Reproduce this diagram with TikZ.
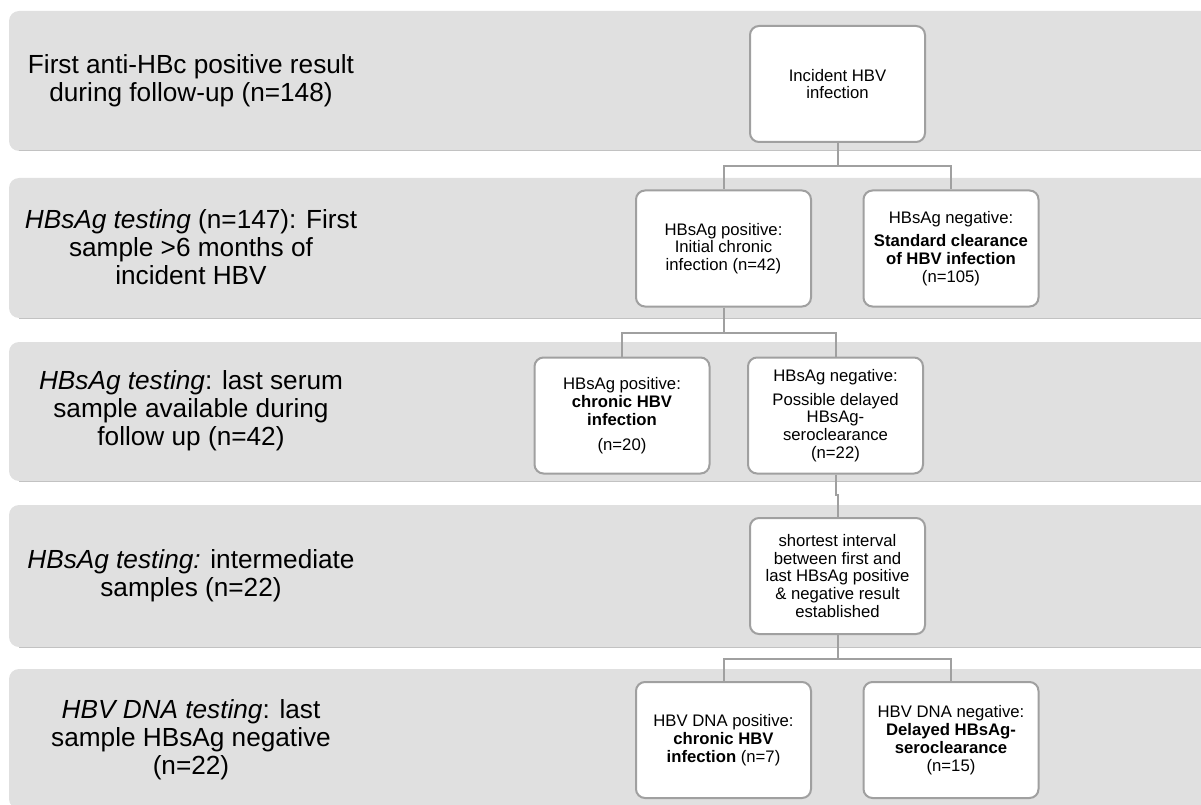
\documentclass[tikz,border=0pt]{standalone}
\usepackage{fontspec}
\setmainfont{Liberation Sans}
\definecolor{bandgray}{HTML}{E0E0E0}
\definecolor{edgegray}{HTML}{C2C2C2}
\definecolor{boxgray}{HTML}{A0A0A0}
\tikzset{
  box/.style={draw=boxgray, line width=2pt, fill=white, rounded corners=9pt,
    align=center, minimum width=175pt, minimum height=116pt, inner sep=2pt,
    font=\fontsize{16.7}{17.8}\selectfont},
  lab/.style={align=center, font=\fontsize{26.2}{28}\selectfont},
  link/.style={draw=boxgray, line width=2pt},
}
\begin{document}
\begin{tikzpicture}[x=1pt,y=-1pt]
\useasboundingbox (0,0) rectangle (1201,805);
\foreach \t/\b in {11/151,178/318,342/481,505/647,669/809}{
  \fill[bandgray,rounded corners=10pt] (1215,\t) -- (9,\t) -- (9,\b) -- (1215,\b) -- cycle;
  \draw[edgegray,line width=1pt] (19,\b) -- (1215,\b);
}
\node (lab1) [lab] at (191,81) {First anti-HBc positive result\\during follow-up (n=148)};
\node (lab2) [lab] at (191,247) {\textit{HBsAg testing} (n=147): First\\sample >6 months of\\incident HBV};
\node (lab3) [lab] at (191,411) {\textit{HBsAg testing}: last serum\\sample available during\\follow up (n=42)};
\node (lab4) [lab] at (191,576) {\textit{HBsAg testing:} intermediate\\samples (n=22)};
\node (lab5) [lab] at (191,740) {\textit{HBV DNA testing}: last\\sample HBsAg negative\\(n=22)};

\node (inc) [box] at (837.5,84) {Incident HBV\\infection};
\node (pos1) [box] at (723.5,248.5) {HBsAg positive:\\Initial chronic\\infection (n=42)};
\node (neg1) [box] at (951,248.5) {HBsAg negative:\\[5pt]\textbf{Standard clearance}\\\textbf{of HBV infection}\\(n=105)};
\node (pos2) [box] at (622,415.5) {HBsAg positive:\\\textbf{chronic HBV}\\\textbf{infection}\\[7pt](n=20)};
\node (neg2) [box] at (835.5,415.5) {HBsAg negative:\\[6pt]Possible delayed\\HBsAg-\\seroclearance\\(n=22)};
\node (gap) [box] at (837.5,576) {shortest interval\\between first and\\last HBsAg positive\\\& negative result\\established};
\node (dnapos) [box] at (723.5,740) {HBV DNA positive:\\\textbf{chronic HBV}\\\textbf{infection} (n=7)};
\node (dnaneg) [box] at (951,740) {HBV DNA negative:\\\textbf{Delayed HBsAg-}\\\textbf{seroclearance}\\(n=15)};

\draw[link] (inc.south) -- ++(0,23) -| (pos1.north);
\draw[link] (inc.south) -- ++(0,23) -| (neg1.north);
\draw[link] (pos1.south) -- ++(0,25) -| (pos2.north);
\draw[link] (pos1.south) -- ++(0,25) -| (neg2.north);
\draw[link] (neg2.south) -- ++(0,20) -| (gap.north);
\draw[link] (gap.south) -- ++(0,24) -| (dnapos.north);
\draw[link] (gap.south) -- ++(0,24) -| (dnaneg.north);
\end{tikzpicture}
\end{document}
